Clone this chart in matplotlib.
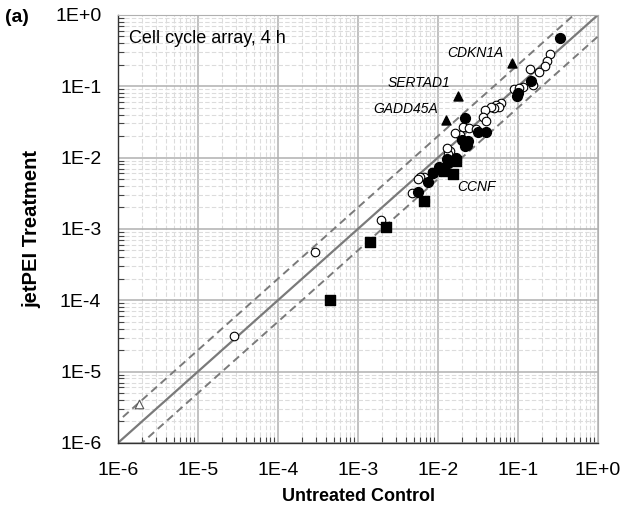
import numpy as np
import matplotlib
matplotlib.use("Agg")
import matplotlib.pyplot as plt
from matplotlib.ticker import FixedLocator, LogLocator, NullFormatter

plt.rcParams['font.family'] = ['Liberation Sans', 'DejaVu Sans']

# untreated control (x) vs jetPEI treatment (y)
filled_x = [0.33, 0.145, 0.097, 0.099, 0.0218, 0.032, 0.040, 0.0200, 0.0230, 0.0215,
            0.0235, 0.0168, 0.0135, 0.0104, 0.0086, 0.0076, 0.0057, 0.0128]
filled_y = [0.48, 0.117, 0.074, 0.081, 0.036, 0.023, 0.023, 0.0177, 0.0150, 0.0145,
            0.0170, 0.0098, 0.0083, 0.0073, 0.0060, 0.0045, 0.0033, 0.0095]

open_x = [0.25, 0.23, 0.22, 0.185, 0.143, 0.155, 0.115, 0.089, 0.104, 0.061,
          0.053, 0.058, 0.050, 0.046, 0.039, 0.037, 0.040, 0.0207, 0.0246, 0.030,
          0.0188, 0.0163, 0.0141, 0.0135, 0.0129, 0.0083, 0.0066, 0.0060, 0.0056,
          0.0047, 0.00194, 0.00029, 2.85e-5]
open_y = [0.28, 0.225, 0.19, 0.156, 0.175, 0.104, 0.096, 0.091, 0.094, 0.059,
          0.055, 0.051, 0.049, 0.051, 0.047, 0.037, 0.033, 0.0267, 0.0258, 0.0252,
          0.0208, 0.0224, 0.0125, 0.0112, 0.0135, 0.0062, 0.0054, 0.0053, 0.0050,
          0.0032, 0.00134, 0.00048, 3.1e-5]

square_x = [4.47e-4, 0.00141, 0.00222, 0.0066, 0.0156, 0.0119, 0.0168]
square_y = [1.01e-4, 0.00066, 0.00106, 0.00245, 0.00585, 0.0065, 0.0090]

tri_x = [0.0834, 0.0179, 0.0127]
tri_y = [0.21, 0.073, 0.0337]
tri_genes = ['CDKN1A', 'SERTAD1', 'GADD45A']

open_tri_x = [1.82e-6]
open_tri_y = [3.52e-6]

ccnf_xy = (0.0156, 0.00585)

decades = [1e-6, 1e-5, 1e-4, 1e-3, 1e-2, 1e-1, 1e0]
tick_labels = ['1E-6', '1E-5', '1E-4', '1E-3', '1E-2', '1E-1', '1E+0']

fig = plt.figure(figsize=(6.21, 5.12), dpi=100)
ax = fig.add_axes([0.19, 0.135, 0.773, 0.836])
ax.set_xscale('log')
ax.set_yscale('log')
ax.set_xlim(1e-6, 1)
ax.set_ylim(1e-6, 1)

ax.grid(True, which='major', color='#b0b0b0', linewidth=1.1, linestyle='-')
ax.grid(True, which='minor', color='#dcdcdc', linewidth=0.8, linestyle=(0, (4, 2)))
ax.set_axisbelow(True)

line = np.array([1e-7, 10])
ax.plot(line, line, color='#7a7a7a', lw=1.6, zorder=2)
ax.plot(line, line * 2, color='#7a7a7a', lw=1.4, ls=(0, (4, 2.5)), zorder=2)
ax.plot(line, line / 2, color='#7a7a7a', lw=1.4, ls=(0, (4, 2.5)), zorder=2)

ax.scatter(open_x, open_y, s=38, facecolor='white', edgecolor='black', linewidth=0.8, zorder=3)
ax.scatter(filled_x, filled_y, s=50, color='black', zorder=4)
ax.scatter(square_x, square_y, s=42, marker='s', color='black', zorder=4)
ax.scatter(tri_x, tri_y, s=42, marker='^', color='black', zorder=4)
ax.scatter(open_tri_x, open_tri_y, s=38, marker='^', facecolor='white',
           edgecolor='#555555', linewidth=0.8, zorder=4)

offsets = {'CDKN1A': (-6, 7.5), 'SERTAD1': (-6, 9), 'GADD45A': (-6, 8)}
for gx, gy, g in zip(tri_x, tri_y, tri_genes):
    ax.annotate(g, (gx, gy), xytext=offsets[g], textcoords='offset points',
                ha='right', va='center', fontsize=10, style='italic')
ax.annotate('CCNF', ccnf_xy, xytext=(3, -9.5), textcoords='offset points',
            ha='left', va='center', fontsize=10, style='italic')

ax.text(0.022, 0.965, 'Cell cycle array, 4 h', transform=ax.transAxes,
        ha='left', va='top', fontsize=13)

ax.xaxis.set_major_locator(FixedLocator(decades))
ax.yaxis.set_major_locator(FixedLocator(decades))
ax.set_xticklabels(tick_labels)
ax.set_yticklabels(tick_labels)
ax.xaxis.set_minor_locator(LogLocator(base=10, subs=np.arange(2, 10), numticks=20))
ax.yaxis.set_minor_locator(LogLocator(base=10, subs=np.arange(2, 10), numticks=20))
ax.xaxis.set_minor_formatter(NullFormatter())
ax.yaxis.set_minor_formatter(NullFormatter())
ax.tick_params(which='major', direction='in', length=0, labelsize=14, pad=12)
ax.tick_params(which='minor', direction='in', length=4, width=0.8, color='#444444')
ax.tick_params(axis='x', which='major', pad=14)

for side in ['top', 'right']:
    ax.spines[side].set_color('#b0b0b0')
for side in ['left', 'bottom']:
    ax.spines[side].set_color('#333333')
    ax.spines[side].set_linewidth(1.0)

ax.set_xlabel('Untreated Control', fontsize=13, fontweight='bold', labelpad=6)
ax.set_ylabel('jetPEI Treatment', fontsize=14.5, fontweight='bold', labelpad=10)
fig.text(0.008, 0.965, '(a)', fontsize=14, fontweight='bold', ha='left', va='center')

fig.savefig('out.png', dpi=100)
